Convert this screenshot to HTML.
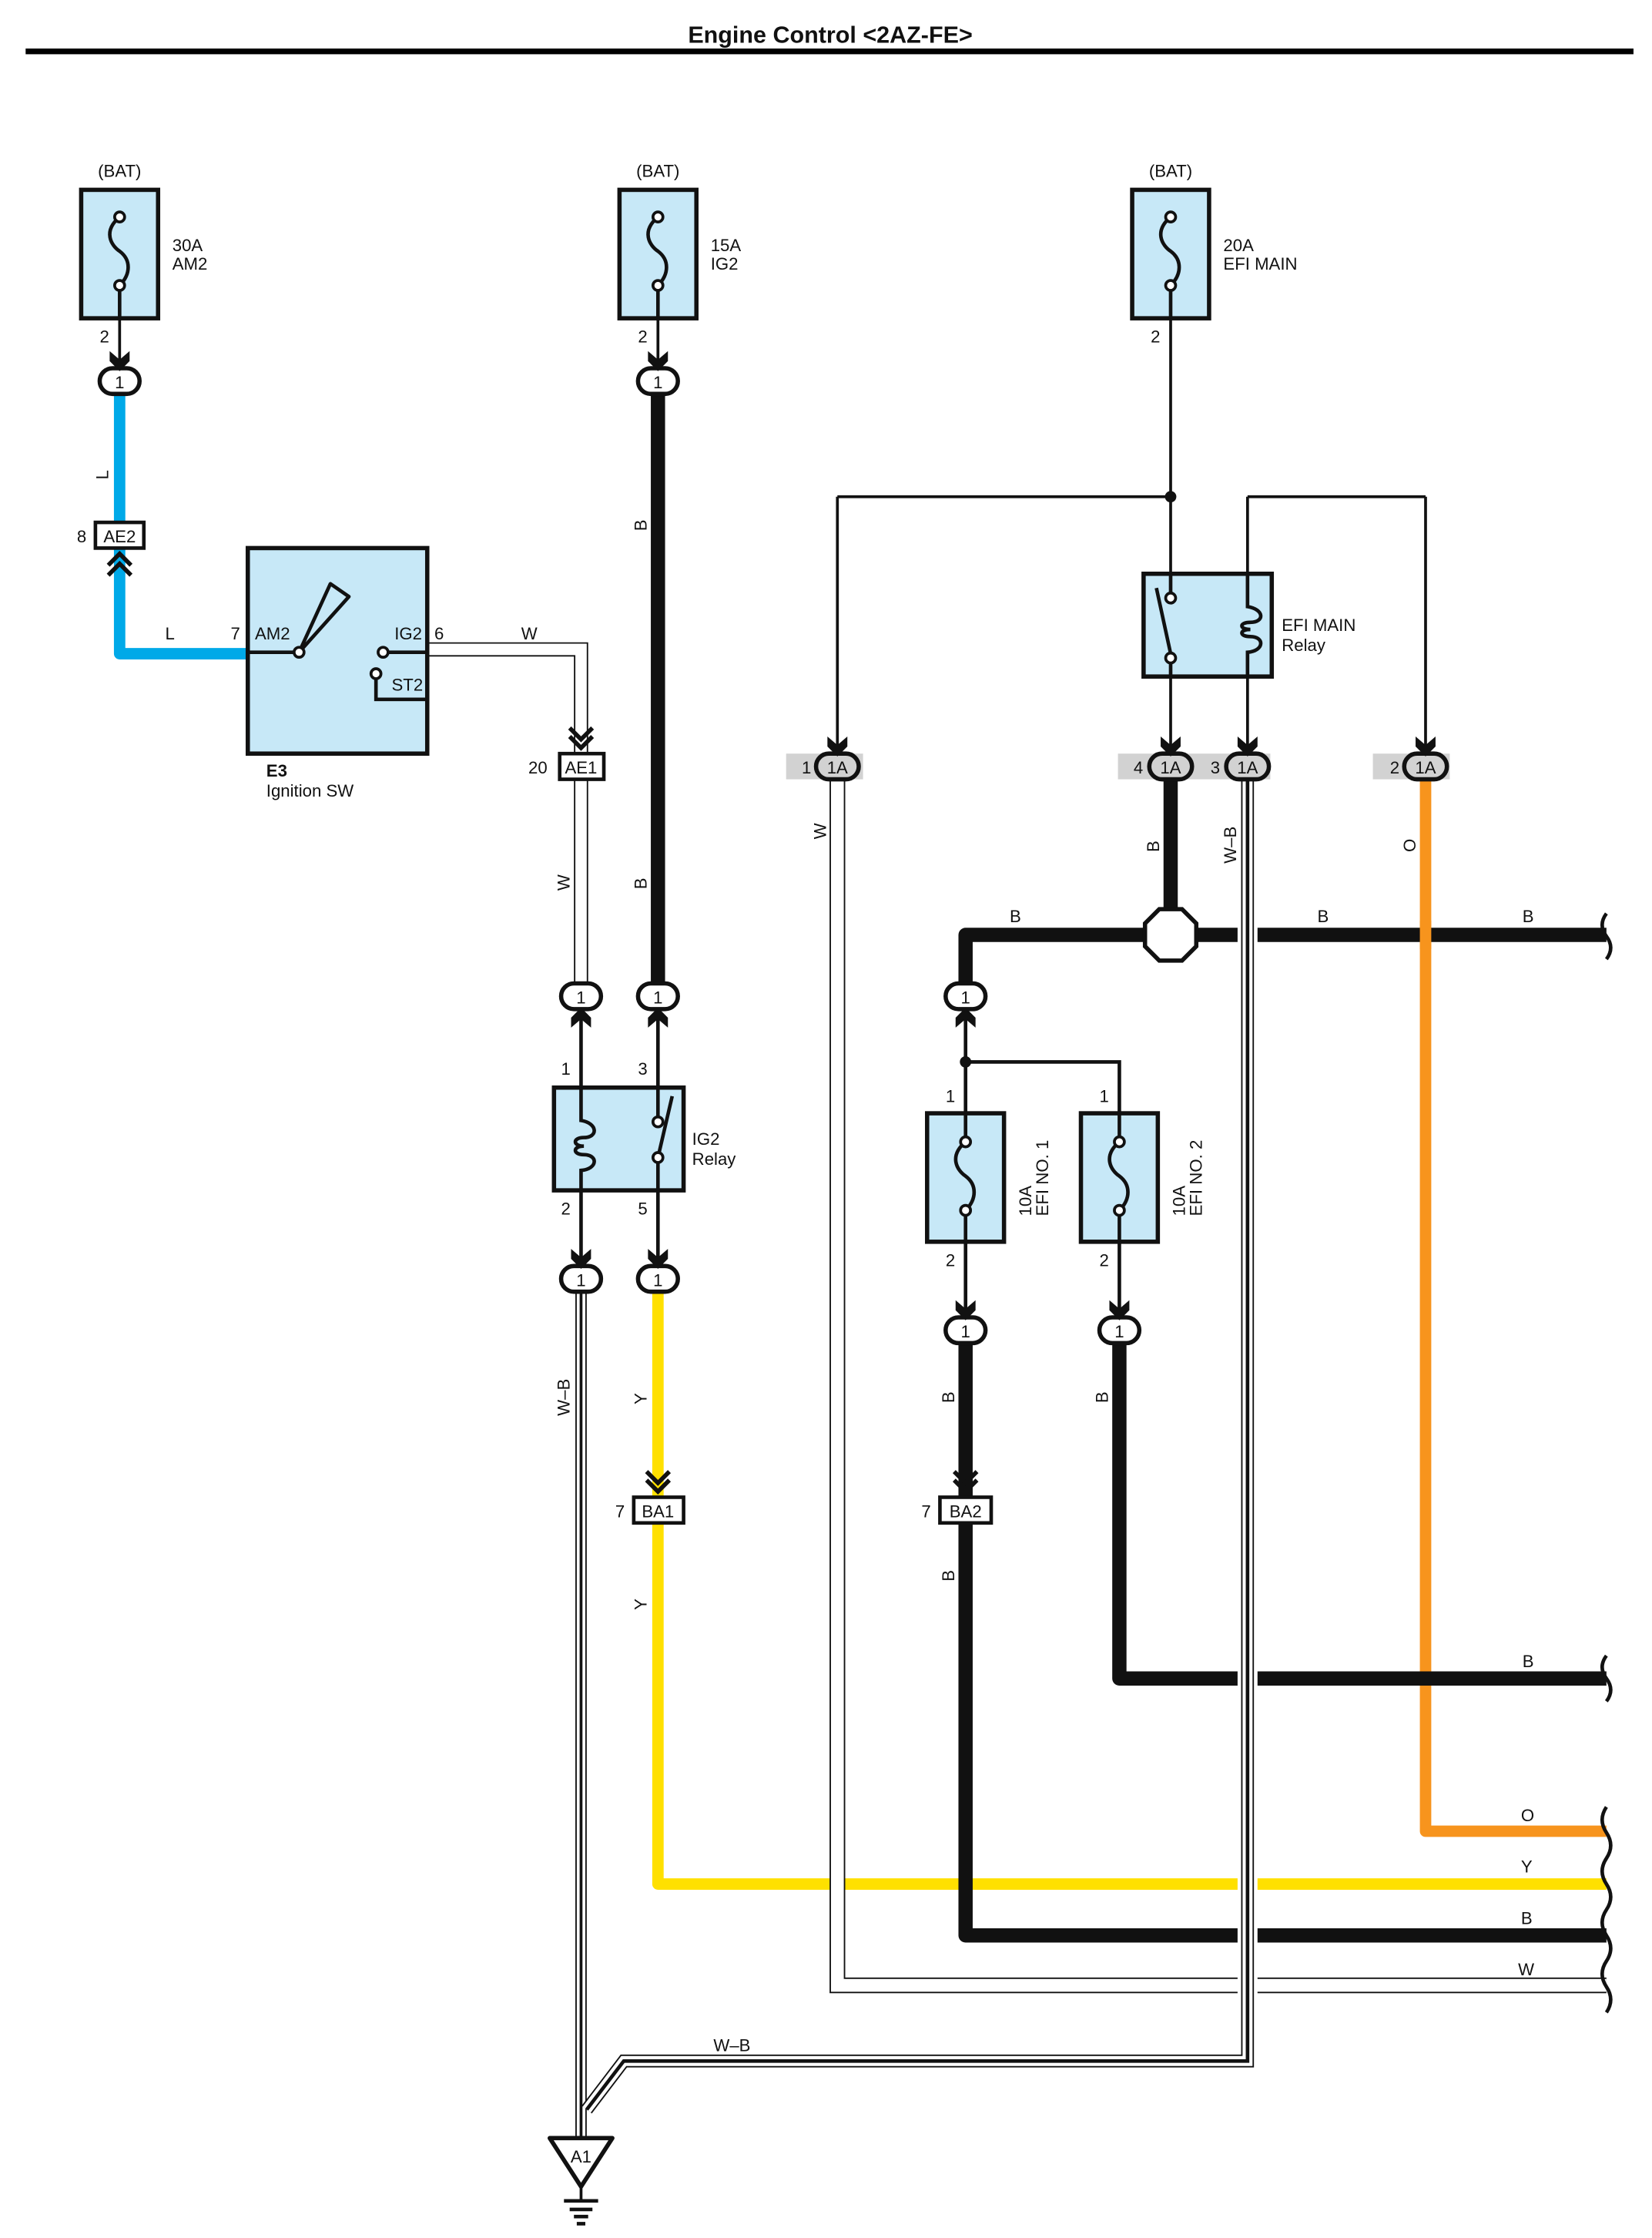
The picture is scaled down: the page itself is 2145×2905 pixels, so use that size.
<!DOCTYPE html>
<html><head><meta charset="utf-8"><style>
html,body{margin:0;padding:0;background:#fff;}
svg{display:block}
text{font-family:"Liberation Sans",sans-serif;fill:#111;}
</style></head><body>
<svg width="2145" height="2905" viewBox="0 0 1160 1568" preserveAspectRatio="none" xmlns="http://www.w3.org/2000/svg">
<defs>
<g id="arrD"><polygon points="-7,-9 0,-3 7,-9 7,-2 0,5 -7,-2" fill="#111"/></g>
</defs>

<text x="583" y="30" font-size="16.5" font-weight="bold" text-anchor="middle">Engine Control &lt;2AZ-FE&gt;</text>
<rect x="18" y="34" width="1129" height="4" fill="#000"/>

<path d="M84,276 V458 H176" fill="none" stroke="#00a9e8" stroke-width="8" stroke-linejoin="round"/>
<path d="M462,276 V690" stroke="#111" stroke-width="10"/>
<path d="M300,455 H408 V528" fill="none" stroke="#111" stroke-width="10"/>
<path d="M300,455 H408 V528" fill="none" stroke="#fff" stroke-width="8"/>
<path d="M408,546 V690" stroke="#111" stroke-width="10"/>
<path d="M408,546 V690" stroke="#fff" stroke-width="8"/>
<path d="M84,223 V258 M462,223 V258 M822,223 V402 M822,474 V528 M876,348 V528 M1001,348 V528 M588,348 V528 M588,348 H822 M876,348 H1001" fill="none" stroke="#111" stroke-width="2"/>
<circle cx="822" cy="348" r="4" fill="#111"/>
<path d="M408,706 V762 M462,706 V762 M408,834 V888 M462,834 V888" stroke="#111" stroke-width="2.5"/>

<path d="M408,905 V1498" stroke="#111" stroke-width="8"/>
<path d="M408,905 V1498" stroke="#fff" stroke-width="6"/>
<path d="M408,905 V1498" stroke="#111" stroke-width="2"/>

<path d="M462,905 V1049 M462,1067 V1320 H1128" fill="none" stroke="#ffe000" stroke-width="8" stroke-linejoin="round"/>
<path d="M1001,546 V1283 H1128" fill="none" stroke="#f7941d" stroke-width="8" stroke-linejoin="round"/>

<path d="M588,546 V1391 H1128" fill="none" stroke="#111" stroke-width="11"/>
<path d="M588,546 V1391 H1128" fill="none" stroke="#fff" stroke-width="9"/>

<path d="M822,546 V640" stroke="#111" stroke-width="10"/>
<path d="M678,690 V655 H1128" fill="none" stroke="#111" stroke-width="10" stroke-linejoin="round"/>
<path d="M1001,645 V665" stroke="#f7941d" stroke-width="8"/>
<path d="M678,706 V780 M678,744 H786 V780 M678,870 V924 M786,870 V924" fill="none" stroke="#111" stroke-width="2.5"/>
<circle cx="678" cy="744" r="4" fill="#111"/>
<path d="M678,941 V1049 M678,1067 V1356 H1128" fill="none" stroke="#111" stroke-width="10" stroke-linejoin="round"/>
<path d="M786,941 V1176 H1128" fill="none" stroke="#111" stroke-width="10" stroke-linejoin="round"/>

<rect x="869" y="640" width="14" height="30" fill="#fff"/>
<rect x="869" y="1166" width="14" height="20" fill="#fff"/>
<rect x="869" y="1310" width="14" height="20" fill="#fff"/>
<rect x="869" y="1346" width="14" height="20" fill="#fff"/>
<rect x="869" y="1384" width="14" height="14" fill="#fff"/>
<path d="M876,546 V1444 H438 L412,1478" fill="none" stroke="#111" stroke-width="9" stroke-linejoin="miter"/>
<path d="M876,546 V1444 H438 L412,1478" fill="none" stroke="#fff" stroke-width="7" stroke-linejoin="miter"/>
<path d="M876,546 V1444 H438 L412,1478" fill="none" stroke="#111" stroke-width="2.5" stroke-linejoin="miter"/>

<path d="M1128,640 q-6,8 0,16 q6,8 0,16" fill="none" stroke="#111" stroke-width="2.5"/>
<path d="M1128,1160 q-6,8 0,16 q6,8 0,16" fill="none" stroke="#111" stroke-width="2.5"/>
<path d="M1128,1266 q-6,9 0,18 q6,9 0,18 q-6,9 0,18 q6,9 0,18 q-6,9 0,18 q6,9 0,18 q-6,9 0,18 q6,9 0,18" fill="none" stroke="#111" stroke-width="2.5"/>

<g stroke="#111" stroke-width="3" fill="#c7e8f7">
<rect x="57" y="133" width="54" height="90"/>
<rect x="435" y="133" width="54" height="90"/>
<rect x="795" y="133" width="54" height="90"/>
<rect x="651" y="780" width="54" height="90"/>
<rect x="759" y="780" width="54" height="90"/>
</g>
<g fill="none" stroke="#111" stroke-width="2.5">
<path d="M84,152 C72,162 78,172 84,176 C92,182 92,192 84,200"/>
<path d="M462,152 C450,162 456,172 462,176 C470,182 470,192 462,200"/>
<path d="M822,152 C810,162 816,172 822,176 C830,182 830,192 822,200"/>
<path d="M678,800 C666,810 672,820 678,824 C686,830 686,840 678,848"/>
<path d="M786,800 C774,810 780,820 786,824 C794,830 794,840 786,848"/>
<path d="M84,200 V223 M462,200 V223 M822,200 V223 M678,848 V870 M786,848 V870 M678,780 V800 M786,780 V800"/>
</g>
<g fill="#fff" stroke="#111" stroke-width="2">
<circle cx="84" cy="152" r="3.5"/><circle cx="84" cy="200" r="3.5"/>
<circle cx="462" cy="152" r="3.5"/><circle cx="462" cy="200" r="3.5"/>
<circle cx="822" cy="152" r="3.5"/><circle cx="822" cy="200" r="3.5"/>
<circle cx="678" cy="800" r="3.5"/><circle cx="678" cy="848" r="3.5"/>
<circle cx="786" cy="800" r="3.5"/><circle cx="786" cy="848" r="3.5"/>
</g>
<g font-size="12">
<text x="84" y="124" text-anchor="middle">(BAT)</text>
<text x="462" y="124" text-anchor="middle">(BAT)</text>
<text x="822" y="124" text-anchor="middle">(BAT)</text>
<text x="121" y="176">30A</text><text x="121" y="189">AM2</text>
<text x="499" y="176">15A</text><text x="499" y="189">IG2</text>
<text x="859" y="176">20A</text><text x="859" y="189">EFI MAIN</text>
<text x="70" y="240">2</text><text x="448" y="240">2</text><text x="808" y="240">2</text>
<text transform="translate(724,852) rotate(-90)">10A</text>
<text transform="translate(736,852) rotate(-90)">EFI NO. 1</text>
<text transform="translate(832,852) rotate(-90)">10A</text>
<text transform="translate(844,852) rotate(-90)">EFI NO. 2</text>
<text x="664" y="772">1</text><text x="772" y="772">1</text>
<text x="664" y="887">2</text><text x="772" y="887">2</text>
</g>

<rect x="174" y="384" width="126" height="144" fill="#c7e8f7" stroke="#111" stroke-width="3"/>
<path d="M174,457 H207 M272,457 H300 M264,476 V490 H300" fill="none" stroke="#111" stroke-width="2.5"/>
<polygon points="210,457 232,409 245,418" fill="none" stroke="#111" stroke-width="2.5" stroke-linejoin="round"/>
<circle cx="210" cy="457" r="3.5" fill="#fff" stroke="#111" stroke-width="2"/>
<circle cx="269" cy="457" r="3.5" fill="#fff" stroke="#111" stroke-width="2"/>
<circle cx="264" cy="472" r="3.5" fill="#fff" stroke="#111" stroke-width="2"/>
<g font-size="12">
<text x="179" y="448">AM2</text><text x="277" y="448">IG2</text>
<text x="162" y="448">7</text><text x="305" y="448">6</text>
<text x="275" y="484">ST2</text>
<text x="187" y="544" font-weight="bold">E3</text>
<text x="187" y="558">Ignition SW</text>
<text x="116" y="448">L</text>
<text x="366" y="448">W</text>
<text transform="translate(76,336) rotate(-90)">L</text>
<text transform="translate(454,372) rotate(-90)">B</text>
<text transform="translate(454,623) rotate(-90)">B</text>
<text transform="translate(400,624) rotate(-90)">W</text>
</g>

<rect x="389" y="762" width="91" height="72" fill="#c7e8f7" stroke="#111" stroke-width="3"/>
<path d="M408,762 V785 C420,787 420,797 410,797 C402,797 402,803 410,803 C402,803 402,809 410,809 C420,809 420,819 408,820 V834" fill="none" stroke="#111" stroke-width="2.5"/>
<path d="M462,834 V811 M462,762 V785 M462,811 L472,768" fill="none" stroke="#111" stroke-width="2.5"/>
<circle cx="462" cy="786" r="3.5" fill="#fff" stroke="#111" stroke-width="2"/>
<circle cx="462" cy="811" r="3.5" fill="#fff" stroke="#111" stroke-width="2"/>
<g font-size="12"><text x="486" y="802">IG2</text><text x="486" y="816">Relay</text>
<text x="394" y="753">1</text><text x="448" y="753">3</text>
<text x="394" y="851">2</text><text x="448" y="851">5</text></g>

<rect x="803" y="402" width="90" height="72" fill="#c7e8f7" stroke="#111" stroke-width="3"/>
<path d="M822,402 V418 M822,474 V460 M812,412 L822,458" fill="none" stroke="#111" stroke-width="2.5"/>
<circle cx="822" cy="419" r="3.5" fill="#fff" stroke="#111" stroke-width="2"/>
<circle cx="822" cy="461" r="3.5" fill="#fff" stroke="#111" stroke-width="2"/>
<path d="M876,402 V425 C888,427 888,436 878,436 C870,436 870,441 878,441 C870,441 870,446 878,446 C888,446 888,456 876,457 V474" fill="none" stroke="#111" stroke-width="2.5"/>
<g font-size="12"><text x="900" y="442">EFI MAIN</text><text x="900" y="456">Relay</text></g>

<g stroke="#111" stroke-width="2.5" fill="#fff">
<rect x="67" y="366" width="34" height="18"/>
<rect x="393" y="528" width="31" height="18"/>
<rect x="445" y="1049" width="35" height="18"/>
<rect x="660" y="1049" width="36" height="18"/>
</g>
<g font-size="12" text-anchor="middle">
<text x="84" y="380">AE2</text><text x="408" y="542">AE1</text>
<text x="462" y="1063">BA1</text><text x="678" y="1063">BA2</text>
</g>
<g font-size="12"><text x="54" y="380">8</text><text x="371" y="542">20</text><text x="432" y="1063">7</text><text x="647" y="1063">7</text></g>
<g fill="none" stroke="#111" stroke-width="3">
<polyline points="76,396 84,388 92,396"/><polyline points="76,403 84,395 92,403"/>
<polyline points="400,510 408,518 416,510"/><polyline points="400,516 408,524 416,516"/>
<polyline points="454,1031 462,1039 470,1031"/><polyline points="454,1037 462,1045 470,1037"/>
<polyline points="670,1031 678,1039 686,1031"/><polyline points="670,1037 678,1045 686,1037"/>
</g>

<g fill="#d2d2d2">
<rect x="552" y="528" width="54" height="18"/>
<rect x="785" y="528" width="107" height="18"/>
<rect x="964" y="528" width="54" height="18"/>
</g>
<g font-size="12"><text x="563" y="542">1</text><text x="796" y="542">4</text><text x="850" y="542">3</text><text x="976" y="542">2</text></g>

<g stroke="#111" stroke-width="3" fill="#fff">
<rect x="70" y="258" width="28" height="18" rx="9"/>
<rect x="448" y="258" width="28" height="18" rx="9"/>
<rect x="394" y="689" width="28" height="18" rx="9"/>
<rect x="448" y="689" width="28" height="18" rx="9"/>
<rect x="394" y="887" width="28" height="18" rx="9"/>
<rect x="448" y="887" width="28" height="18" rx="9"/>
<rect x="664" y="689" width="28" height="18" rx="9"/>
<rect x="664" y="923" width="28" height="18" rx="9"/>
<rect x="772" y="923" width="28" height="18" rx="9"/>
</g>
<g fill="#d2d2d2" stroke="#111" stroke-width="3">
<rect x="573" y="528" width="30" height="18" rx="9"/>
<rect x="807" y="528" width="30" height="18" rx="9"/>
<rect x="861" y="528" width="30" height="18" rx="9"/>
<rect x="986" y="528" width="30" height="18" rx="9"/>
</g>
<g font-size="12" text-anchor="middle">
<text x="84" y="272">1</text><text x="462" y="272">1</text>
<text x="408" y="703">1</text><text x="462" y="703">1</text>
<text x="408" y="901">1</text><text x="462" y="901">1</text>
<text x="678" y="703">1</text><text x="678" y="937">1</text><text x="786" y="937">1</text>
<text x="588" y="542">1A</text><text x="822" y="542">1A</text><text x="876" y="542">1A</text><text x="1001" y="542">1A</text>
</g>

<use href="#arrD" x="84" y="255"/><use href="#arrD" x="462" y="255"/>
<use href="#arrD" x="408" y="884"/><use href="#arrD" x="462" y="884"/>
<use href="#arrD" x="678" y="920"/><use href="#arrD" x="786" y="920"/>
<use href="#arrD" x="588" y="525"/><use href="#arrD" x="822" y="525"/><use href="#arrD" x="876" y="525"/><use href="#arrD" x="1001" y="525"/>
<g transform="translate(408,711) scale(1,-1)"><use href="#arrD"/></g>
<g transform="translate(462,711) scale(1,-1)"><use href="#arrD"/></g>
<g transform="translate(678,711) scale(1,-1)"><use href="#arrD"/></g>

<polygon points="814,637 830,637 840,647 840,663 830,673 814,673 804,663 804,647" fill="#fff" stroke="#111" stroke-width="3"/>

<polygon points="386,1498 430,1498 408,1532" fill="#fff" stroke="#111" stroke-width="3" stroke-linejoin="round"/>
<text x="408" y="1515" font-size="12" text-anchor="middle">A1</text>
<path d="M408,1532 V1541" stroke="#111" stroke-width="2"/>
<path d="M396,1542 H420 M400,1548 H416 M403,1553 H413 M405,1558 H411" stroke="#111" stroke-width="2.5"/>

<g font-size="12">
<text transform="translate(400,992) rotate(-90)">W–B</text>
<text transform="translate(454,984) rotate(-90)">Y</text>
<text transform="translate(454,1128) rotate(-90)">Y</text>
<text transform="translate(580,588) rotate(-90)">W</text>
<text transform="translate(814,597) rotate(-90)">B</text>
<text transform="translate(868,605) rotate(-90)">W–B</text>
<text transform="translate(994,597) rotate(-90)">O</text>
<text transform="translate(670,983) rotate(-90)">B</text>
<text transform="translate(670,1108) rotate(-90)">B</text>
<text transform="translate(778,983) rotate(-90)">B</text>
<text x="709" y="646">B</text><text x="925" y="646">B</text><text x="1069" y="646">B</text>
<text x="1069" y="1168">B</text>
<text x="1068" y="1276">O</text>
<text x="1068" y="1312">Y</text>
<text x="1068" y="1348">B</text>
<text x="1066" y="1384">W</text>
<text x="501" y="1437">W–B</text>
</g>
</svg>
</body></html>
